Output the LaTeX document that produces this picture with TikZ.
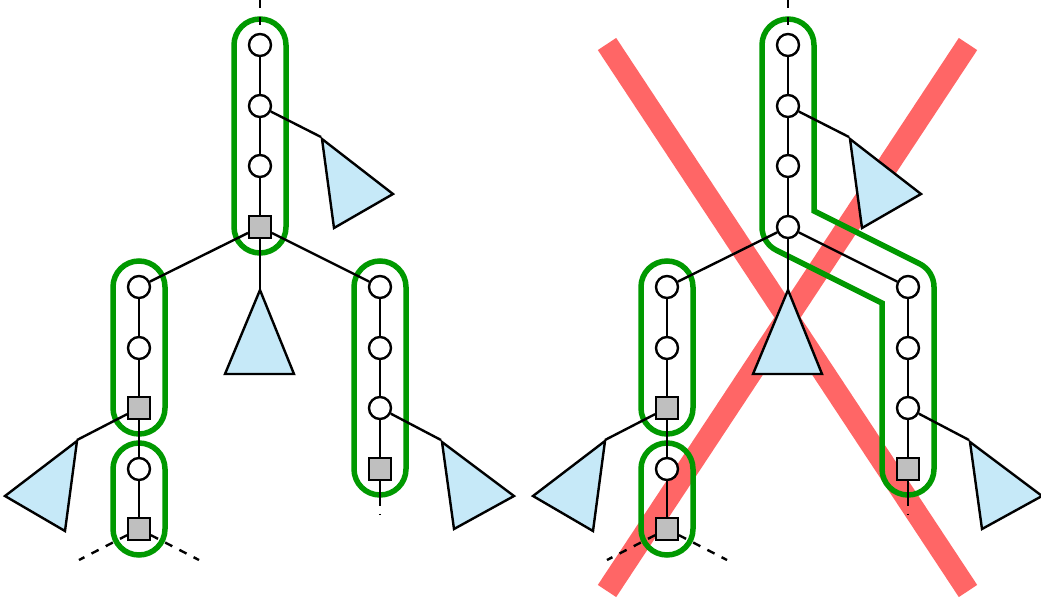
\documentclass[tikz,border=0pt]{standalone}
\usepackage{tikz}
\definecolor{grn}{RGB}{0,153,0}
\definecolor{redx}{RGB}{255,102,102}
\definecolor{trifill}{RGB}{198,233,248}
\definecolor{sqfill}{RGB}{191,191,191}
\pgfdeclarelayer{redl}
\pgfdeclarelayer{grnl}
\pgfdeclarelayer{edgel}
\pgfsetlayers{redl,grnl,edgel,main}
\newcommand\mytree[2]{%
  \node[circ] (#1a1) at (260,45) {};
  \node[circ] (#1a2) at (260,106) {};
  \node[circ] (#1a3) at (260,166) {};
  \node[#2]   (#1a4) at (260,227) {};
  \node[circ] (#1b1) at (139,287) {};
  \node[circ] (#1b2) at (139,348) {};
  \node[sqr]  (#1b3) at (139,408) {};
  \node[circ] (#1b4) at (139,469) {};
  \node[sqr]  (#1b5) at (139,529) {};
  \node[circ] (#1c1) at (380,287) {};
  \node[circ] (#1c2) at (380,348) {};
  \node[circ] (#1c3) at (380,408) {};
  \node[sqr]  (#1c4) at (380,469) {};
  \coordinate (#1ta) at (321,137);
  \coordinate (#1tb) at (260,290);
  \coordinate (#1tc) at (77,440);
  \coordinate (#1td) at (441,440);
  \coordinate (#1da) at (260,0);
  \coordinate (#1db1) at (79,560);
  \coordinate (#1db2) at (199,560);
  \coordinate (#1dc) at (380,515);
  \begin{pgfonlayer}{edgel}
    \draw[edge] (#1a1) -- (#1a2) -- (#1a3) -- (#1a4);
    \draw[edge] (#1a2) -- (#1ta);
    \draw[edge] (#1a4) -- (#1b1);
    \draw[edge] (#1a4) -- (#1c1);
    \draw[edge] (#1a4) -- (#1tb);
    \draw[edge] (#1b1) -- (#1b2) -- (#1b3) -- (#1b4) -- (#1b5);
    \draw[edge] (#1b3) -- (#1tc);
    \draw[edge] (#1c1) -- (#1c2) -- (#1c3) -- (#1c4);
    \draw[edge] (#1c3) -- (#1td);
    \draw[edge,dash pattern=on 8pt off 9pt] (#1da) -- (#1a1);
    \draw[edge,dash pattern=on 8pt off 8pt] (#1b5) -- (#1db1);
    \draw[edge,dash pattern=on 8pt off 8pt] (#1b5) -- (#1db2);
    \draw[edge,dash pattern=on 25pt off 8pt] (#1c4) -- (#1dc);
    \draw[trian] (322,139) -- (393,194) -- (334,228) -- cycle;
    \draw[trian] (260,290) -- (225,374) -- (294,374) -- cycle;
    \draw[trian] (77,441) -- (5,496) -- (65,531) -- cycle;
    \draw[trian] (442,442) -- (514,496) -- (454,529) -- cycle;
  \end{pgfonlayer}
}
\begin{document}
\begin{tikzpicture}[x=1pt,y=-1pt,
  circ/.style={circle,draw,fill=white,line width=2.4pt,minimum size=22pt,inner sep=0pt},
  sqr/.style={rectangle,draw,fill=sqfill,line width=2.4pt,minimum size=21.5pt,inner sep=0pt},
  edge/.style={line width=2.4pt},
  grp/.style={draw=grn,line width=5.5pt},
  trian/.style={draw=black,fill=trifill,line width=2.4pt,line join=miter},
  xline/.style={draw=redx,line width=22pt}]
  \useasboundingbox (0,0) rectangle (1041,605);
  % left tree
  \mytree{L}{sqr}
  \begin{pgfonlayer}{grnl}
    \draw[grp,rounded corners=26pt] (234,19) rectangle (286,253);
    \draw[grp,rounded corners=26pt] (113,261) rectangle (165,434);
    \draw[grp,rounded corners=26pt] (113,443) rectangle (165,555);
    \draw[grp,rounded corners=26pt] (354,261) rectangle (406,495);
  \end{pgfonlayer}
  % right tree
  \begin{scope}[xshift=528pt]
    \mytree{R}{circ}
  \end{scope}
  \begin{pgfonlayer}{grnl}
    \draw[grp,rounded corners=26pt] (641,261) rectangle (693,434);
    \draw[grp,rounded corners=26pt] (641,443) rectangle (693,555);
    \draw[grp] (762,45) arc[start angle=180,end angle=360,radius=26]
      -- (814,210.94) -- (919.63,263.75)
      arc[start angle=296.57,end angle=360,radius=26]
      -- (934,469) arc[start angle=0,end angle=180,radius=26]
      -- (882,303.07) -- (776.37,250.25)
      arc[start angle=116.57,end angle=180,radius=26] -- cycle;
  \end{pgfonlayer}
  % red cross
  \coordinate (x1) at (607,44);
  \coordinate (x2) at (968,591);
  \coordinate (x3) at (968,44);
  \coordinate (x4) at (607,591);
  \begin{pgfonlayer}{redl}
    \draw[xline] (x1) -- (x2);
    \draw[xline] (x3) -- (x4);
  \end{pgfonlayer}
\end{tikzpicture}
\end{document}
